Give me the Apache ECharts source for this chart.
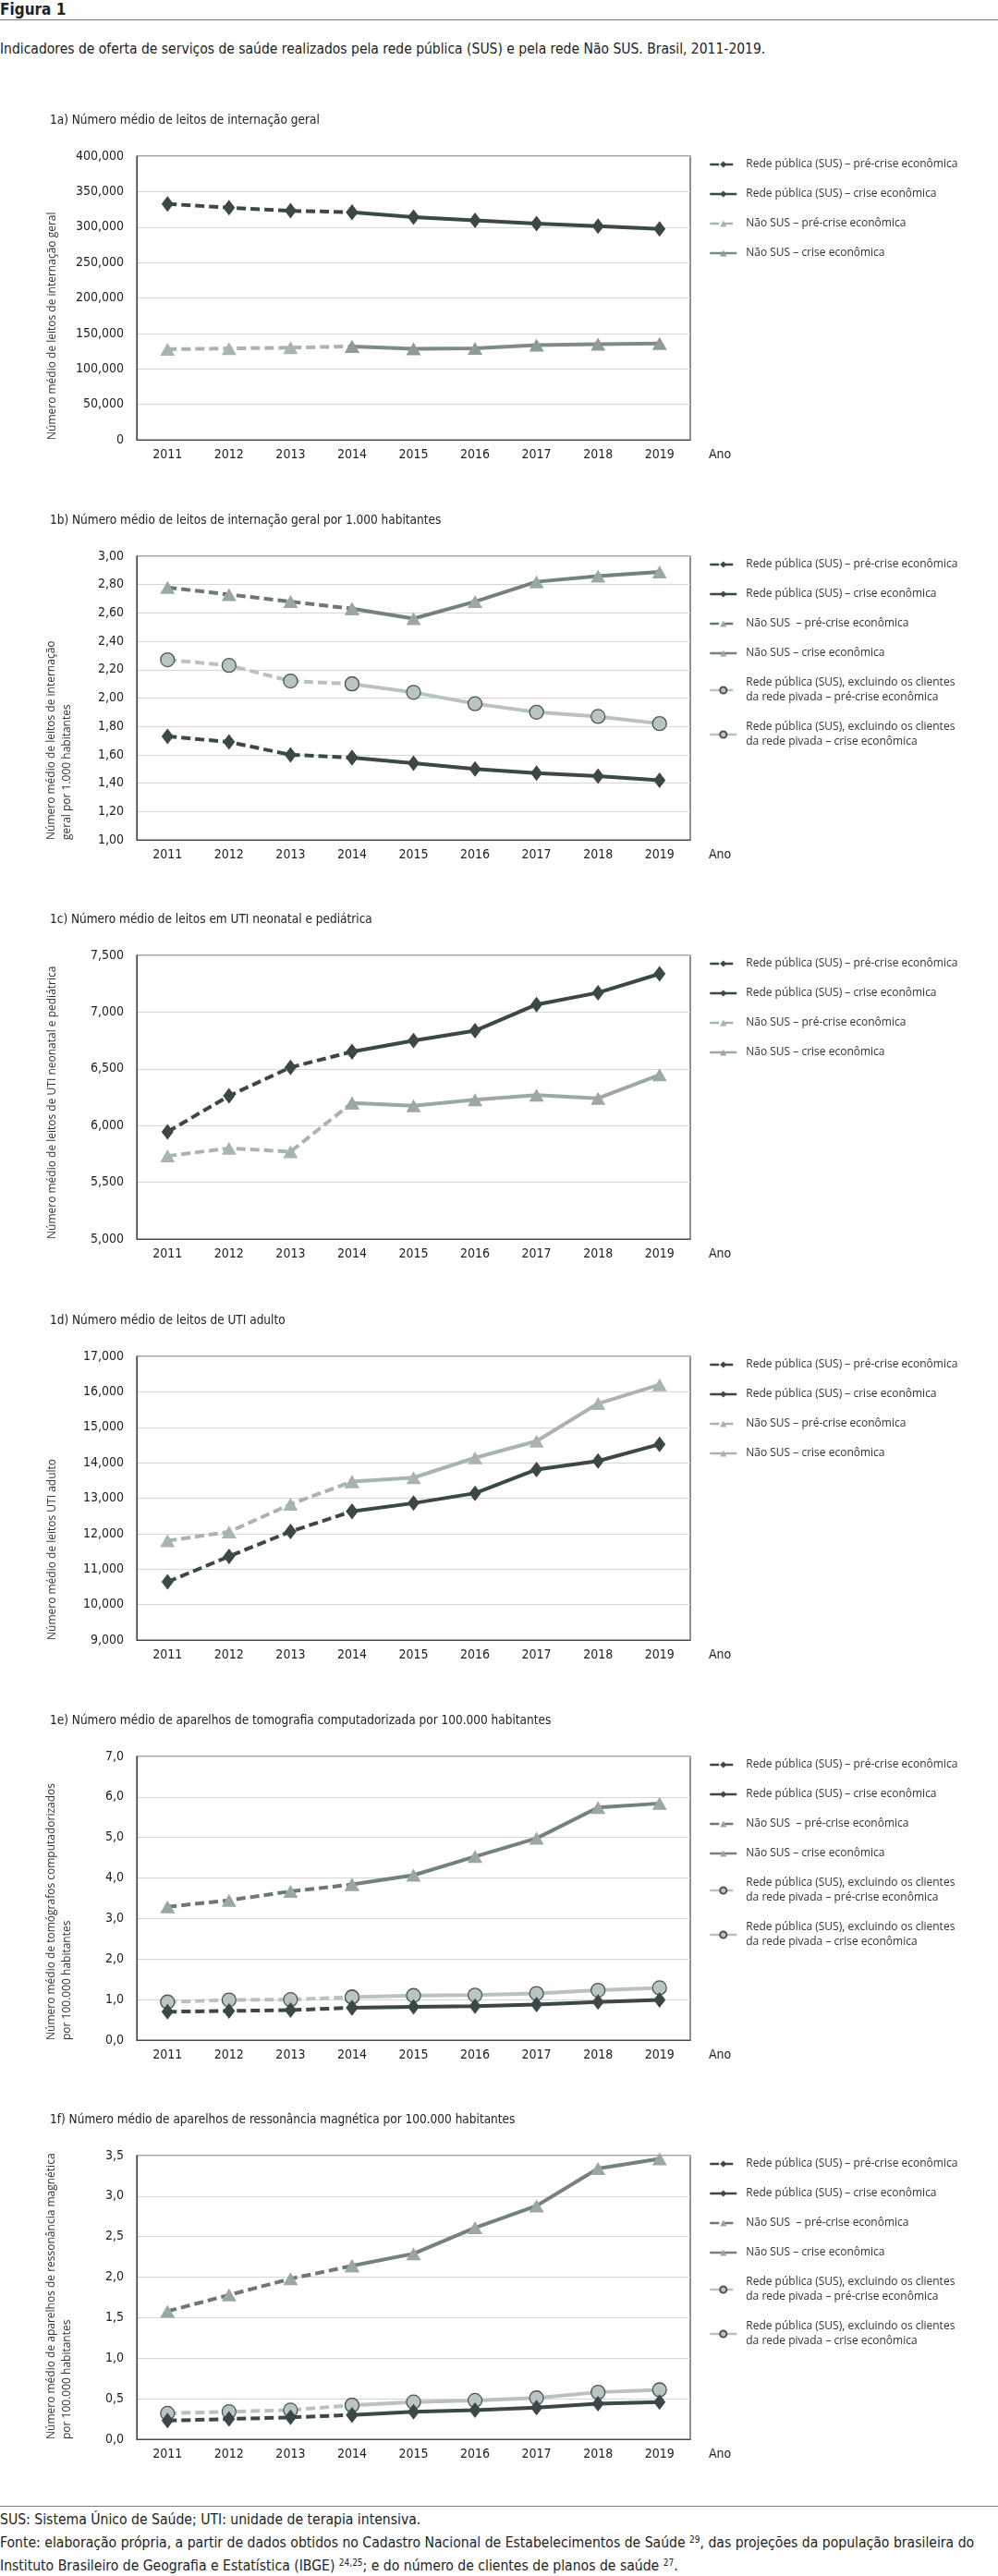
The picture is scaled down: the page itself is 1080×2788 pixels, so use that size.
<!DOCTYPE html>
<html><head><meta charset="utf-8">
<script src="https://cdn.jsdelivr.net/npm/echarts@6/dist/echarts.min.js"></script>
<style>
html,body{margin:0;padding:0;background:#fff}
body{width:1080px;height:2788px;position:relative;overflow:hidden;font-family:'Liberation Sans Narrow','DejaVu Sans Condensed','Open Sans',sans-serif;color:#222}
.fig{position:absolute;left:0;top:0;font-weight:bold;font-size:17px;line-height:20px}
.rule{position:absolute;left:0;width:1080px;height:0;border-top:1.5px solid #7a7a7a}
.sub{position:absolute;left:0;top:43px;font-size:15.5px;line-height:20px;white-space:nowrap}
.panel{position:absolute;left:0;width:1080px;height:400px}
.foot{position:absolute;left:0;top:2715px;font-size:15.6px;line-height:25px;width:1080px;white-space:nowrap}
.foot sup{font-size:10px;vertical-align:5px;line-height:0}
</style></head><body>
<div class="fig">Figura 1</div>
<div class="rule" style="top:21px"></div>
<div class="sub">Indicadores de oferta de serviços de saúde realizados pela rede pública (SUS) e pela rede Não SUS. Brasil, 2011-2019.</div>
<div id="p0" class="panel"></div>
<div id="p1" class="panel"></div>
<div id="p2" class="panel"></div>
<div id="p3" class="panel"></div>
<div id="p4" class="panel"></div>
<div id="p5" class="panel"></div>
<div class="rule" style="top:2712px"></div>
<div class="foot">SUS: Sistema Único de Saúde; UTI: unidade de terapia intensiva.<br>Fonte: elaboração própria, a partir de dados obtidos no Cadastro Nacional de Estabelecimentos de Saúde <sup>29</sup>, das projeções da população brasileira do<br>Instituto Brasileiro de Geografia e Estatística (IBGE) <sup>24,25</sup>; e do número de clientes de planos de saúde <sup>27</sup>.</div>
<script>
// ---------- DATA ----------
const YEARS = ['2011','2012','2013','2014','2015','2016','2017','2018','2019'];
const CRISIS_START = 3; // 2014

// 1a
const a_sus = [332600, 327400, 323000, 320900, 313900, 309600, 304800, 301300, 297400];
const a_nao = [127800, 128700, 130000, 131700, 128300, 129100, 133500, 134800, 135700];
// 1b
const b_sus  = [1.73, 1.69, 1.60, 1.58, 1.54, 1.50, 1.47, 1.45, 1.42];
const b_nao  = [2.78, 2.73, 2.68, 2.63, 2.56, 2.68, 2.82, 2.86, 2.89];
const b_excl = [2.27, 2.23, 2.12, 2.10, 2.04, 1.96, 1.90, 1.87, 1.82];
// 1c
const c_sus = [5944, 6262, 6513, 6651, 6749, 6836, 7067, 7171, 7337];
const c_nao = [5732, 5800, 5770, 6200, 6175, 6227, 6268, 6240, 6447];
// 1d
const d_sus = [10640, 11360, 12060, 12630, 12860, 13140, 13810, 14050, 14520];
const d_nao = [11800, 12050, 12830, 13470, 13580, 14140, 14610, 15670, 16200];
// 1e
const e_sus  = [0.70, 0.72, 0.74, 0.80, 0.82, 0.84, 0.88, 0.94, 0.99];
const e_nao  = [3.29, 3.45, 3.67, 3.84, 4.07, 4.53, 4.98, 5.74, 5.84];
const e_excl = [0.94, 0.99, 1.00, 1.06, 1.10, 1.11, 1.15, 1.23, 1.29];
// 1f
const f_sus  = [0.23, 0.25, 0.27, 0.30, 0.34, 0.36, 0.39, 0.44, 0.46];
const f_nao  = [1.58, 1.78, 1.98, 2.14, 2.29, 2.61, 2.88, 3.34, 3.46];
const f_excl = [0.32, 0.34, 0.36, 0.42, 0.46, 0.48, 0.51, 0.58, 0.61];

// axis ranges
const A_AXIS = {min: 0, max: 400000, interval: 50000};
const B_AXIS = {min: 1.0, max: 3.0, interval: 0.2};
const C_AXIS = {min: 5000, max: 7500, interval: 500};
const D_AXIS = {min: 9000, max: 17000, interval: 1000};
const E_AXIS = {min: 0, max: 7.0, interval: 1.0};
const F_AXIS = {min: 0, max: 3.5, interval: 0.5};

// labels
const TITLES = [
  '1a) Número médio de leitos de internação geral',
  '1b) Número médio de leitos de internação geral por 1.000 habitantes',
  '1c) Número médio de leitos em UTI neonatal e pediátrica',
  '1d) Número médio de leitos de UTI adulto',
  '1e) Número médio de aparelhos de tomografia computadorizada por 100.000 habitantes',
  '1f) Número médio de aparelhos de ressonância magnética por 100.000 habitantes'
];
const YNAMES = [
  'Número médio de leitos de internação geral',
  'Número médio de leitos de internação\ngeral por 1.000 habitantes',
  'Número médio de leitos de UTI neonatal e pediátrica',
  'Número médio de leitos UTI adulto',
  'Número médio de tomógrafos computadorizados\npor 100.000 habitantes',
  'Número médio de aparelhos de ressonância magnética\npor 100.000 habitantes'
];
const N_SUS_PRE = 'Rede pública (SUS) – pré-crise econômica';
const N_SUS_CRI = 'Rede pública (SUS) – crise econômica';
const N_NAO_PRE = 'Não SUS – pré-crise econômica';
const N_NAO_PRE2 = 'Não SUS  – pré-crise econômica';
const N_NAO_CRI = 'Não SUS – crise econômica';
const N_EXC_PRE = 'Rede pública (SUS), excluindo os clientes\nda rede pivada – pré-crise econômica';
const N_EXC_CRI = 'Rede pública (SUS), excluindo os clientes\nda rede pivada – crise econômica';

// ---------- STYLE ----------
const DARK = '#3c4747';
const LIGHT = '#a9b4b2';
const MIDN = '#7d8a88';
const NAO_DARK = '#6b7876';
const TRI = '#9aa7a5';
const EXC_LINE = '#b9c2c0';
const EXC_FILL = '#bac4c2';
const DASH = [10, 5];
const TICK_FONT = "'Liberation Sans Narrow','DejaVu Sans Condensed',sans-serif";
const TEXT_FONT = "'Open Sans','Noto Sans',sans-serif";

const PLOT_TOPS = [169, 602, 1034, 1468, 1901, 2333];
const PLOT_H = 307, GRID_LEFT = 148, GRID_RIGHT_X = 747, DIV_OFF = 60;

function pre(arr){ return arr.map((v,i)=> i <= CRISIS_START ? v : null); }
function cri(arr){ return arr.map((v,i)=> i >= CRISIS_START ? v : null); }

function ser(name, data, kind, color, fill, dashed, z){
  const sym = kind === 'd' ? 'diamond' : kind === 't' ? 'triangle' : 'circle';
  const size = kind === 'd' ? [13, 17] : kind === 't' ? [16, 14] : 15;
  return {
    name, type: 'line', data, symbol: sym, symbolSize: size, showSymbol: true,
    connectNulls: false, z: z, animation: false,
    lineStyle: {color: color, width: 4, type: dashed ? DASH : 'solid'},
    itemStyle: {color: fill, borderColor: kind === 'c' ? '#4a5555' : fill, borderWidth: kind === 'c' ? 1.3 : 0},
    emphasis: {disabled: true}
  };
}

const fmtThousands = v => String(Math.round(v)).replace(/\B(?=(\d{3})+(?!\d))/g, ',');
const fmtDec = d => v => v.toFixed(d).replace('.', ',');

const PANELS = [
  {axis: A_AXIS, fmt: fmtThousands, series: [
    ser(N_SUS_PRE, pre(a_sus), 'd', DARK, DARK, true, 3),
    ser(N_SUS_CRI, cri(a_sus), 'd', DARK, DARK, false, 4),
    ser(N_NAO_PRE, pre(a_nao), 't', LIGHT, LIGHT, true, 3),
    ser(N_NAO_CRI, cri(a_nao), 't', MIDN, '#8e9b99', false, 4)
  ]},
  {axis: B_AXIS, fmt: fmtDec(2), series: [
    ser(N_SUS_PRE, pre(b_sus), 'd', DARK, DARK, true, 3),
    ser(N_SUS_CRI, cri(b_sus), 'd', DARK, DARK, false, 4),
    ser(N_NAO_PRE2, pre(b_nao), 't', NAO_DARK, TRI, true, 3),
    ser(N_NAO_CRI, cri(b_nao), 't', '#74817f', TRI, false, 4),
    ser(N_EXC_PRE, pre(b_excl), 'c', EXC_LINE, EXC_FILL, true, 3),
    ser(N_EXC_CRI, cri(b_excl), 'c', EXC_LINE, EXC_FILL, false, 4)
  ]},
  {axis: C_AXIS, fmt: fmtThousands, series: [
    ser(N_SUS_PRE, pre(c_sus), 'd', DARK, DARK, true, 3),
    ser(N_SUS_CRI, cri(c_sus), 'd', DARK, DARK, false, 4),
    ser(N_NAO_PRE, pre(c_nao), 't', LIGHT, LIGHT, true, 3),
    ser(N_NAO_CRI, cri(c_nao), 't', '#9ca8a6', '#9ca8a6', false, 4)
  ]},
  {axis: D_AXIS, fmt: fmtThousands, series: [
    ser(N_SUS_PRE, pre(d_sus), 'd', DARK, DARK, true, 3),
    ser(N_SUS_CRI, cri(d_sus), 'd', DARK, DARK, false, 4),
    ser(N_NAO_PRE, pre(d_nao), 't', LIGHT, LIGHT, true, 3),
    ser(N_NAO_CRI, cri(d_nao), 't', LIGHT, LIGHT, false, 4)
  ]},
  {axis: E_AXIS, fmt: fmtDec(1), series: [
    ser(N_SUS_PRE, pre(e_sus), 'd', DARK, DARK, true, 5),
    ser(N_SUS_CRI, cri(e_sus), 'd', DARK, DARK, false, 6),
    ser(N_NAO_PRE2, pre(e_nao), 't', NAO_DARK, TRI, true, 3),
    ser(N_NAO_CRI, cri(e_nao), 't', '#74817f', TRI, false, 4),
    ser(N_EXC_PRE, pre(e_excl), 'c', EXC_LINE, EXC_FILL, true, 3),
    ser(N_EXC_CRI, cri(e_excl), 'c', EXC_LINE, EXC_FILL, false, 4)
  ]},
  {axis: F_AXIS, fmt: fmtDec(1), series: [
    ser(N_SUS_PRE, pre(f_sus), 'd', DARK, DARK, true, 5),
    ser(N_SUS_CRI, cri(f_sus), 'd', DARK, DARK, false, 6),
    ser(N_NAO_PRE2, pre(f_nao), 't', NAO_DARK, TRI, true, 3),
    ser(N_NAO_CRI, cri(f_nao), 't', '#74817f', TRI, false, 4),
    ser(N_EXC_PRE, pre(f_excl), 'c', EXC_LINE, EXC_FILL, true, 3),
    ser(N_EXC_CRI, cri(f_excl), 'c', EXC_LINE, EXC_FILL, false, 4)
  ]}
];

PANELS.forEach((p, i) => {
  const el = document.getElementById('p' + i);
  const T = PLOT_TOPS[i];
  el.style.top = (T - DIV_OFF) + 'px';
  const chart = echarts.init(el, null, {renderer: 'canvas'});
  const twoLine = YNAMES[i].indexOf('\n') >= 0;
  const option = {
    animation: false,
    title: {
      text: TITLES[i], left: 49, top: 9,
      textStyle: {fontFamily: TICK_FONT, fontSize: 13.5, fontWeight: 'normal', color: '#222'}
    },
    grid: {
      left: GRID_LEFT, width: GRID_RIGHT_X - GRID_LEFT, top: DIV_OFF, height: PLOT_H,
      show: true, borderColor: '#4a4a4a', borderWidth: 1.2, backgroundColor: 'transparent'
    },
    legend: {
      orient: 'vertical', left: 762, top: DIV_OFF - 4,
      itemWidth: 29, itemHeight: 9, itemGap: 16,
      data: p.series.map(s => s.name),
      textStyle: {fontFamily: TEXT_FONT, fontSize: 12, color: '#333', lineHeight: 16, padding: [0, 0, 0, 5]},
      lineStyle: {width: 2.5},
      selectedMode: false
    },
    xAxis: {
      type: 'category', data: YEARS, boundaryGap: true,
      name: 'Ano', nameLocation: 'end', nameGap: 20,
      nameTextStyle: {fontFamily: TICK_FONT, fontSize: 14, color: '#222', verticalAlign: 'top', padding: [9, 0, 0, 0]},
      axisLine: {show: true, lineStyle: {color: '#4a4a4a', width: 1.2}},
      axisTick: {show: false},
      axisLabel: {fontFamily: TICK_FONT, fontSize: 14, color: '#222', margin: 9},
      splitLine: {show: false}
    },
    yAxis: {
      type: 'value', min: p.axis.min, max: p.axis.max, interval: p.axis.interval,
      axisLine: {show: true, lineStyle: {color: '#4a4a4a', width: 1.2}},
      axisTick: {show: false},
      axisLabel: {fontFamily: TICK_FONT, fontSize: 14, color: '#222', margin: 14, formatter: p.fmt},
      splitLine: {show: true, lineStyle: {color: '#d6d6d6', width: 1}}
    },
    graphic: [{
      type: 'text', x: twoLine ? 64 : 57, y: DIV_OFF + PLOT_H, rotation: Math.PI / 2,
      style: {text: YNAMES[i], fill: '#333', font: "12px 'Open Sans', sans-serif",
        textAlign: 'left', textVerticalAlign: 'middle', lineHeight: 17}
    }],
    series: p.series
  };
  chart.setOption(option);
});
</script>
</body></html>
